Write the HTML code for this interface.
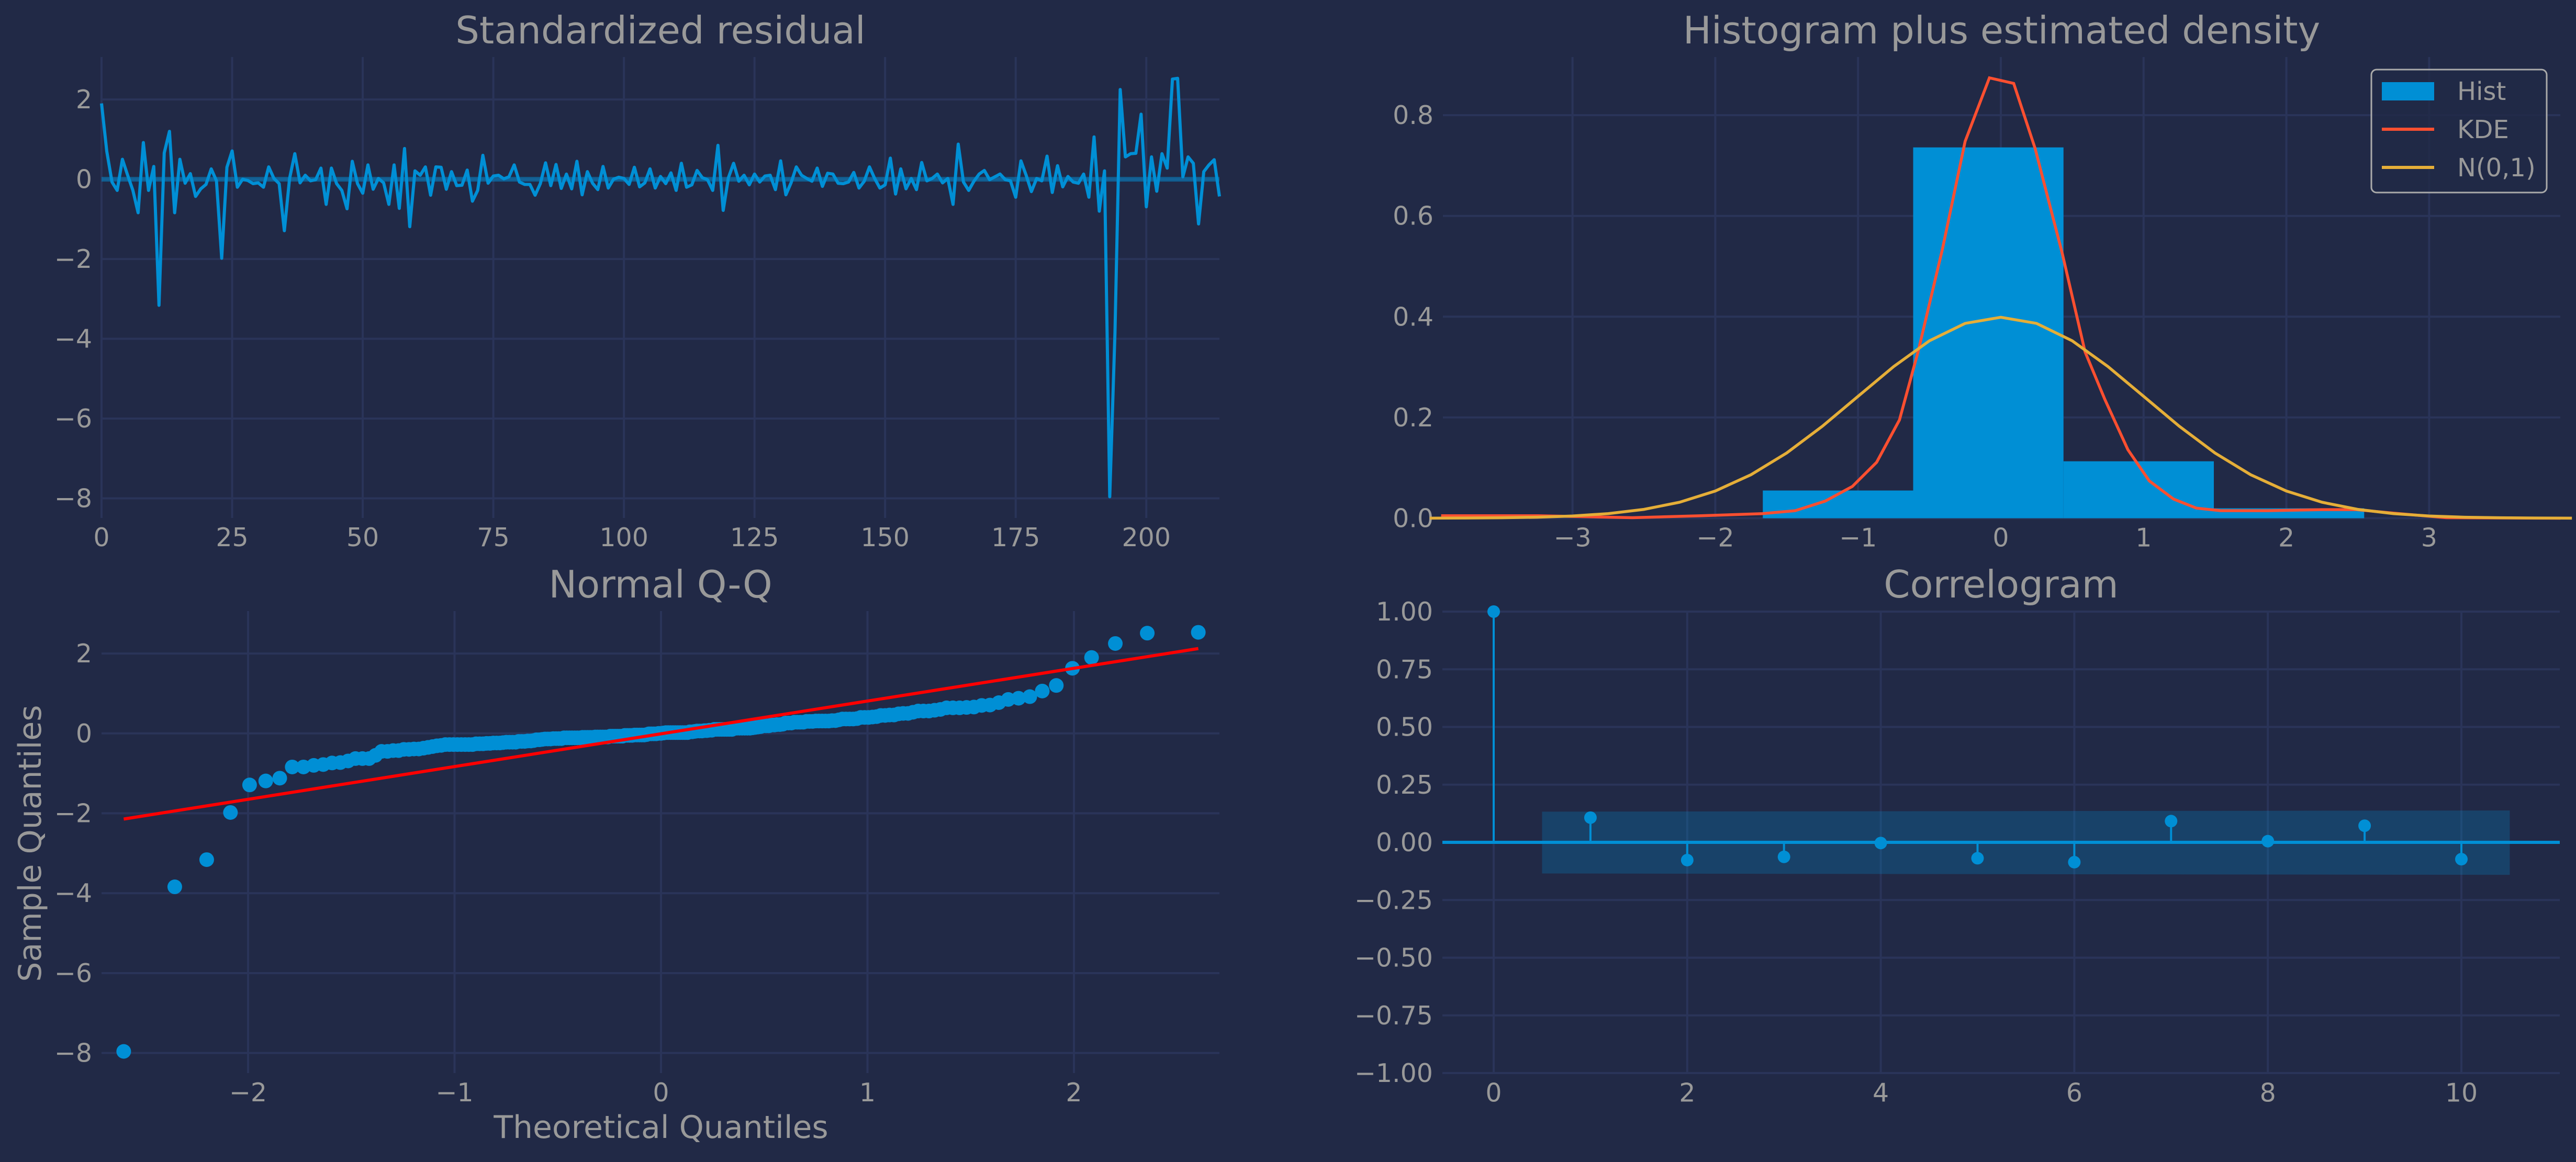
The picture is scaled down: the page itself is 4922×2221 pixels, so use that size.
<!DOCTYPE html>
<html><head><meta charset="utf-8">
<style>
html,body{margin:0;padding:0;background:#212946;}
svg{display:block;}
text{font-family:"DejaVu Sans","Liberation Sans",sans-serif;fill:#999999;}
</style></head>
<body>
<svg id="fig" xmlns="http://www.w3.org/2000/svg" width="4922" height="2221" viewBox="0 0 4922 2221">
<rect x="0" y="0" width="4922" height="2221" fill="#212946"/>
</svg>
<script>
// ---------- DATA ----------
const residuals = [1.9,0.7,-0.07,-0.28,0.5,0.1,-0.28,-0.84,0.92,-0.28,0.32,-3.16,0.66,1.2,-0.84,0.5,-0.1,0.14,-0.43,-0.24,
-0.13,0.26,-0.04,-1.98,0.3,0.71,-0.2,0,-0.03,-0.11,-0.09,-0.2,0.31,0.02,-0.11,-1.29,0.02,0.64,-0.09,0.1,
-0.04,-0.01,0.28,-0.63,0.28,-0.11,-0.28,-0.74,0.45,-0.11,-0.35,0.36,-0.25,0.02,-0.09,-0.63,0.36,-0.73,0.77,-1.19,
0.21,0.1,0.31,-0.4,0.31,0.3,-0.25,0.19,-0.16,-0.15,0.23,-0.55,-0.28,0.6,-0.1,0.08,0.1,0.01,0.06,0.36,
-0.07,-0.13,-0.13,-0.4,-0.11,0.41,-0.16,0.37,-0.23,0.13,-0.24,0.45,-0.39,0.19,-0.1,-0.26,0.32,-0.22,0,0.05,
0.02,-0.13,0.3,-0.19,-0.09,0.26,-0.22,0.07,-0.11,0.16,-0.28,0.4,-0.2,-0.14,0.22,0.04,-0.01,-0.28,0.85,-0.78,
0.04,0.4,-0.05,0.1,-0.14,0.13,-0.07,0.08,0.1,-0.26,0.46,-0.39,-0.09,0.31,0.1,0.02,-0.05,0.28,-0.18,0.15,
0.13,-0.1,-0.11,-0.07,0.17,-0.22,-0.05,0.31,0.02,-0.22,-0.14,0.53,-0.37,0.26,-0.24,0.02,-0.26,0.42,-0.04,0.02,
0.13,-0.09,0.02,-0.63,0.88,-0.07,-0.28,-0.05,0.13,0.22,-0.01,0.06,0.13,-0.01,-0.04,-0.45,0.46,0.1,-0.31,0.02,
-0.04,0.58,-0.33,0.34,-0.19,0.07,-0.07,-0.1,0.13,-0.45,1.06,-0.8,0.21,-7.96,-3.84,2.25,0.56,0.64,0.65,1.63,
-0.69,0.56,-0.3,0.64,0.28,2.51,2.53,0.06,0.56,0.4,-1.12,0.19,0.36,0.49,-0.43];
const residTicksX = [0,25,50,75,100,125,150,175,200];
const residTicksY = [2,0,-2,-4,-6,-8];

const histEdges = [-1.667,-0.614,0.439,1.492,2.545];
const histHeights = [0.055,0.736,0.113,0.0197];
const kdeX = [-3.92,-3.24,-2.58,-2.1,-1.67,-1.44,-1.23,-1.04,-0.87,-0.71,-0.58,-0.41,-0.25,-0.08,0.09,0.24,0.43,0.59,0.73,0.89,1.04,1.21,1.37,1.54,1.87,2.25,2.49,2.79,3.12,3.92];
const kdeY = [0.005,0.005,0.001,0.005,0.009,0.015,0.034,0.063,0.111,0.195,0.33,0.533,0.748,0.874,0.863,0.734,0.526,0.33,0.235,0.136,0.074,0.038,0.02,0.015,0.015,0.017,0.017,0.009,0.001,0];
const normX = [-4,-3.75,-3.5,-3.25,-3,-2.75,-2.5,-2.25,-2,-1.75,-1.5,-1.25,-1,-0.75,-0.5,-0.25,0,0.25,0.5,0.75,1,1.25,1.5,1.75,2,2.25,2.5,2.75,3,3.25,3.5,3.75,4];
const normY = [0.0001,0.0004,0.0009,0.002,0.0044,0.0091,0.0175,0.0317,0.054,0.0863,0.1295,0.1826,0.242,0.3011,0.3521,0.3867,0.3989,0.3867,0.3521,0.3011,0.242,0.1826,0.1295,0.0863,0.054,0.0317,0.0175,0.0091,0.0044,0.002,0.0009,0.0004,0.0001];
const histTicksX = [-3,-2,-1,0,1,2,3];
const histTicksY = [0.0,0.2,0.4,0.6,0.8];

const qqLine = [-0.01,0.82]; // intercept, slope
const qqTicksX = [-2,-1,0,1,2];
const qqTicksY = [2,0,-2,-4,-6,-8];

const acfLags = [0,1,2,3,4,5,6,7,8,9,10];
const acfValues = [1.0,0.107,-0.077,-0.063,-0.003,-0.069,-0.086,0.092,0.005,0.072,-0.073];
const confLags = [0.5,10.5];
const confUpper = [0.133,0.138];
const confLower = [-0.135,-0.141];
const acfTicksX = [0,2,4,6,8,10];
const acfTicksY = [1.0,0.75,0.5,0.25,0.0,-0.25,-0.5,-0.75,-1.0];

// ---------- HELPERS ----------
const NS = "http://www.w3.org/2000/svg";
const svg = document.getElementById('fig');
function mk(tag, attrs, parent){
  const e = document.createElementNS(NS, tag);
  for (const k in attrs) e.setAttribute(k, attrs[k]);
  (parent||svg).appendChild(e);
  return e;
}
const GRID = '#2a3459', BLUE = '#008fd5';
function fmt(v, d){ return (v<0?'\u2212':'') + Math.abs(v).toFixed(d); }

function panel(name, L, R, T, B, sx, sy, tx, ty, dx, dy, title){
  const g = mk('g', {});
  
  
  tx.forEach(v => {
    const l = mk('line', {x1:sx(v), x2:sx(v), y1:T, y2:B, stroke:GRID, 'stroke-width':4}, g);
    
    
    const t = mk('text', {x:sx(v), y:(B+54), 'font-size':49, 'text-anchor':'middle'}, g);
    t.textContent = fmt(v, dx);
    
    
  });
  ty.forEach(v => {
    const l = mk('line', {x1:L, x2:R, y1:sy(v), y2:sy(v), stroke:GRID, 'stroke-width':4}, g);
    
    
    const t = mk('text', {x:L-18, y:sy(v)+17, 'font-size':49, 'text-anchor':'end'}, g);
    t.textContent = fmt(v, dy);
    
    
  });
  const tt = mk('text', {x:(L+R)/2, y:T-26, 'font-size':72, 'text-anchor':'middle'}, g);
  tt.textContent = title;
  
  
  return g;
}

// ---------- PANEL 1: residuals ----------
{
  const L=194,R=2330,T=109,B=990;
  const sx = v => L + v*(R-L)/214;
  const sy = v => 342.6 - v*76.24;
  const g = panel('standardized-residual-panel', L,R,T,B,sx,sy,residTicksX,residTicksY,0,0,'Standardized residual');
  const z = mk('line', {x1:L, x2:R, y1:sy(0), y2:sy(0), stroke:BLUE, 'stroke-width':9, 'stroke-opacity':0.5}, g);
  
  
  const pts = residuals.map((v,i)=>sx(i).toFixed(1)+','+sy(v).toFixed(1)).join(' ');
  const pl = mk('polyline', {points:pts, fill:'none', stroke:BLUE, 'stroke-width':6, 'stroke-linejoin':'round'}, g);
  
  
}

// ---------- PANEL 2: histogram ----------
{
  const L=2757,R=4892,T=109,B=990.5;
  const sx = v => 3823 + v*272.8;
  const sy = v => 990.5 - v*963;
  const g = panel('histogram-panel', L,R,T,B,sx,sy,histTicksX,histTicksY,0,1,'Histogram plus estimated density');
  histHeights.forEach((h,i)=>{
    const r = mk('rect', {x:sx(histEdges[i]), y:sy(h), width:sx(histEdges[i+1])-sx(histEdges[i]), height:sy(0)-sy(h), fill:BLUE}, g);
    
    
  });
  const k = mk('polyline', {points:kdeX.map((x,i)=>sx(x).toFixed(1)+','+sy(kdeY[i]).toFixed(1)).join(' '), fill:'none', stroke:'#fc4f30', 'stroke-width':5.5}, g);
  
  
  const n = mk('polyline', {points:normX.map((x,i)=>sx(x).toFixed(1)+','+sy(normY[i]).toFixed(1)).join(' '), fill:'none', stroke:'#e5ae38', 'stroke-width':5.5}, g);
  
  
  // legend
  const lg = mk('g', {}, g);
  
  
  mk('rect', {x:4531, y:133, width:335, height:235, rx:10, fill:'#212946', 'fill-opacity':0.8, stroke:'#aaaaaa', 'stroke-width':3}, lg);
  const e1 = mk('rect', {x:4551, y:157, width:100, height:35, fill:BLUE}, lg);
  
  
  const e2 = mk('line', {x1:4551, x2:4651, y1:247, y2:247, stroke:'#fc4f30', 'stroke-width':6}, lg);
  
  
  const e3 = mk('line', {x1:4551, x2:4651, y1:320, y2:320, stroke:'#e5ae38', 'stroke-width':6}, lg);
  
  
  [['Hist',191],['KDE',264],['N(0,1)',337]].forEach(([s,y])=>{
    const t = mk('text', {x:4695, y:y, 'font-size':48}, lg);
    t.textContent = s;
    
    
  });
}

// ---------- PANEL 3: QQ ----------
function invNorm(p){
  const a=[-39.69683028665376,220.9460984245205,-275.9285104469687,138.3577518672690,-30.66479806614716,2.506628277459239];
  const b=[-54.47609879822406,161.5858368580409,-155.6989798598866,66.80131188771972,-13.28068155288572];
  const c=[-0.007784894002430293,-0.3223964580411365,-2.400758277161838,-2.549732539343734,4.374664141464968,2.938163982698783];
  const d=[0.007784695709041462,0.3224671290700398,2.445134137142996,3.754408661907416];
  const pl=0.02425;
  if(p<pl){const q=Math.sqrt(-2*Math.log(p));return (((((c[0]*q+c[1])*q+c[2])*q+c[3])*q+c[4])*q+c[5])/((((d[0]*q+d[1])*q+d[2])*q+d[3])*q+1);}
  if(p>1-pl){const q=Math.sqrt(-2*Math.log(1-p));return -(((((c[0]*q+c[1])*q+c[2])*q+c[3])*q+c[4])*q+c[5])/((((d[0]*q+d[1])*q+d[2])*q+d[3])*q+1);}
  const q=p-0.5,r=q*q;return (((((a[0]*r+a[1])*r+a[2])*r+a[3])*r+a[4])*r+a[5])*q/(((((b[0]*r+b[1])*r+b[2])*r+b[3])*r+b[4])*r+1);
}
{
  const L=194,R=2330,T=1168,B=2051;
  const sx = v => 1263 + v*394.5;
  const sy = v => 1401.8 - v*76.36;
  const g = panel('normal-qq-panel', L,R,T,B,sx,sy,qqTicksX,qqTicksY,0,0,'Normal Q-Q');
  const sorted = residuals.slice().sort((a,b)=>a-b);
  const n = sorted.length;
  sorted.forEach((v,i)=>{
    const q = invNorm((i+1)/(n+1));
    const c = mk('circle', {cx:sx(q), cy:sy(v), r:14, fill:BLUE}, g);
    
    
  });
  const q0 = invNorm(1/(n+1)), q1 = invNorm(n/(n+1));
  const ln = mk('line', {x1:sx(q0), y1:sy(qqLine[0]+qqLine[1]*q0), x2:sx(q1), y2:sy(qqLine[0]+qqLine[1]*q1), stroke:'#ff0000', 'stroke-width':6}, g);
  
  
  const xl = mk('text', {x:1263, y:2175, 'font-size':60, 'text-anchor':'middle'}, g);
  xl.textContent = 'Theoretical Quantiles';
  
  
  const yl = mk('text', {x:0, y:0, 'font-size':60, 'text-anchor':'middle', transform:'translate(78,1612) rotate(-90)'}, g);
  yl.textContent = 'Sample Quantiles';
  
  
}

// ---------- PANEL 4: correlogram ----------
{
  const L=2756,R=4891,T=1168,B=2051.5;
  const sx = v => 2854 + v*184.9;
  const sy = v => 1610 - v*441;
  const g = panel('correlogram-panel', L,R,T,B,sx,sy,acfTicksX,acfTicksY,0,2,'Correlogram');
  const band = mk('polygon', {points:[
    sx(confLags[0])+','+sy(confUpper[0]), sx(confLags[1])+','+sy(confUpper[1]),
    sx(confLags[1])+','+sy(confLower[1]), sx(confLags[0])+','+sy(confLower[0])].join(' '),
    fill:BLUE, 'fill-opacity':0.25}, g);
  
  
  const z = mk('line', {x1:L, x2:R, y1:sy(0), y2:sy(0), stroke:BLUE, 'stroke-width':6}, g);
  
  
  acfLags.forEach((lag,i)=>{
    const s = mk('line', {x1:sx(lag), x2:sx(lag), y1:sy(0), y2:sy(acfValues[i]), stroke:BLUE, 'stroke-width':4}, g);
    
    
    const c = mk('circle', {cx:sx(lag), cy:sy(acfValues[i]), r:12, fill:BLUE}, g);
    
    
  });
}
</script>
</body></html>
